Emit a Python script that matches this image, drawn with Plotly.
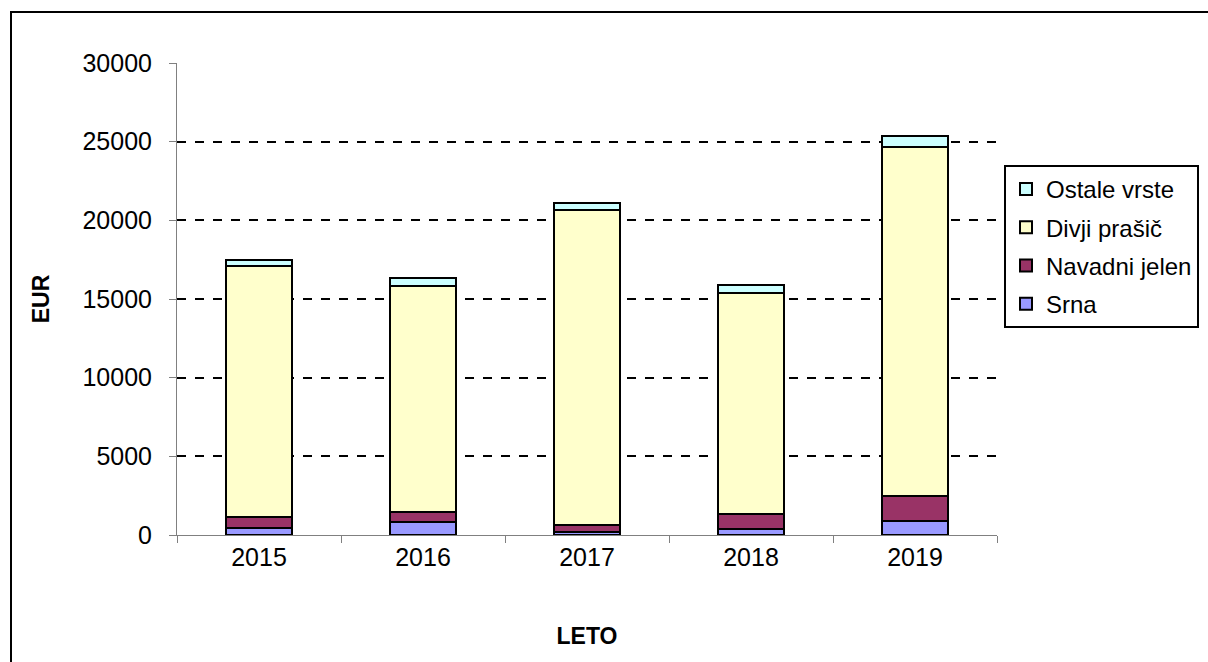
import plotly.graph_objects as go

years = ["2015", "2016", "2017", "2018", "2019"]
srna = [450, 850, 170, 360, 860]
navadni_jelen = [710, 600, 460, 990, 1620]
divji_prasic = [15960, 14350, 20040, 14040, 22200]
ostale_vrste = [340, 550, 420, 530, 700]

series = [
    ("Srna", srna, "#9999FF", 4),
    ("Navadni jelen", navadni_jelen, "#993366", 3),
    ("Divji prašič", divji_prasic, "#FFFFCC", 2),
    ("Ostale vrste", ostale_vrste, "#CCFFFF", 1),
]

W, H = 1208, 662
L, R, T, B = 177, 997, 63, 535

fig = go.Figure()
for name, vals, col, rank in series:
    fig.add_trace(go.Bar(
        x=years, y=vals, name=name, legendgroup=name, legendrank=rank,
        marker=dict(color=col, line=dict(color="black", width=2)),
        width=0.4,
    ))

def px_x(p):
    return (p - L) / (R - L)

def px_y(p):
    return (B - p) / (B - T)

fig.update_layout(
    width=W, height=H,
    margin=dict(l=L, r=W - R, t=T, b=H - B, autoexpand=False),
    barmode="stack",
    paper_bgcolor="white",
    plot_bgcolor="white",
    font=dict(family="Liberation Sans, Arial, sans-serif", color="black", size=22),
    showlegend=True,
    legend=dict(
        x=px_x(1199), y=px_y(165), xanchor="right", yanchor="top",
        traceorder="grouped",
        bordercolor="black", borderwidth=2,
        font=dict(size=24),
        tracegroupgap=4,
        itemwidth=30,
    ),
    xaxis=dict(
        type="category",
        showline=True, linecolor="#808080", linewidth=1,
        ticks="outside", tickson="boundaries", ticklen=7, tickcolor="#808080",
        tickfont=dict(size=25),
        title=dict(text="<b>LETO</b>", font=dict(size=23), standoff=57),
        showgrid=False,
    ),
    yaxis=dict(
        range=[0, 30000], dtick=5000, tickformat="d",
        showline=True, linecolor="#808080", linewidth=1,
        ticks="outside", ticklen=7, tickcolor="#808080",
        tickfont=dict(size=25), ticklabelstandoff=12,
        showgrid=True, gridcolor="black", gridwidth=2, griddash="dash",
        zeroline=False,
        title=dict(text="<b>EUR</b>", font=dict(size=23), standoff=26),
    ),
    shapes=[dict(
        type="rect", xref="paper", yref="paper",
        x0=px_x(11), x1=px_x(1230), y0=px_y(700), y1=px_y(12),
        line=dict(color="black", width=2), fillcolor="rgba(0,0,0,0)", layer="below",
    )],
)

fig.write_html("out.html", config={"displayModeBar": False},
               post_script="document.body.style.margin='0';")
